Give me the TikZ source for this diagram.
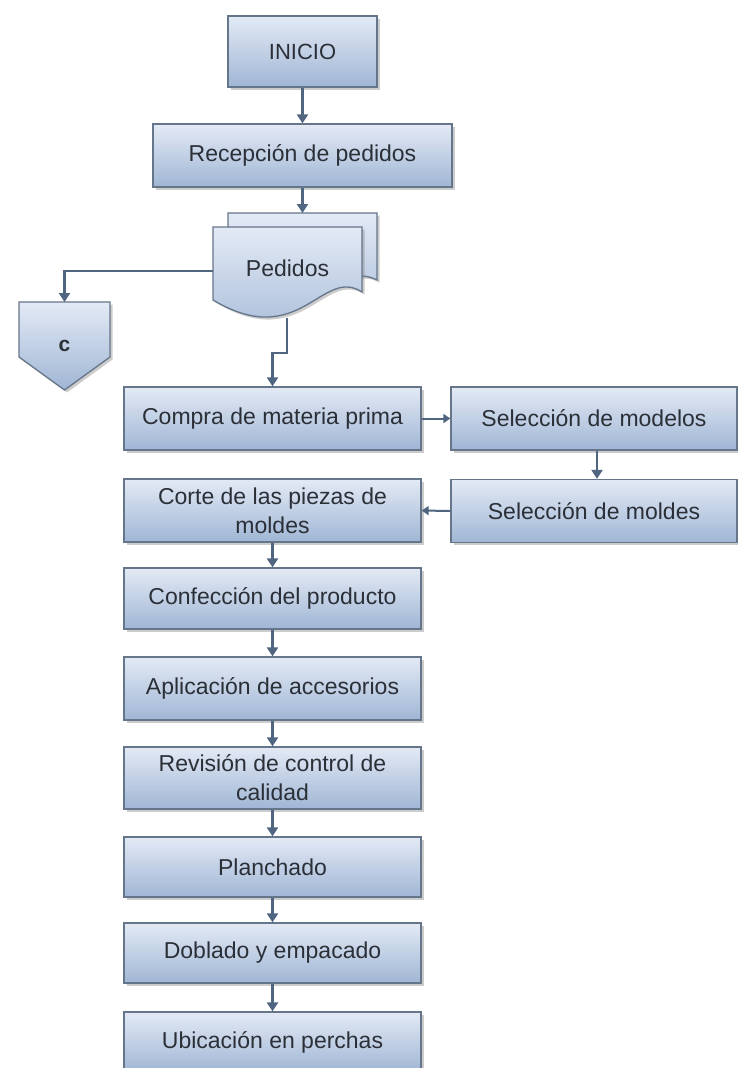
\documentclass[tikz,border=0pt]{standalone}
\usepackage{fontspec}
\setmainfont{Liberation Sans}
\usetikzlibrary{arrows.meta,shadows}
\definecolor{topc}{HTML}{E3EAF5}
\definecolor{botc}{HTML}{A0B6D5}
\definecolor{edgec}{HTML}{65758A}
\definecolor{arrc}{HTML}{4F6580}
\definecolor{txtc}{HTML}{2B2F37}
\begin{document}
\begin{tikzpicture}[x=1pt,y=-1pt,
  shapefill/.style={draw=edgec, line width=1.3pt, top color=topc, bottom color=botc,
    drop shadow={opacity=0.4, shadow xshift=2.5pt, shadow yshift=-2.5pt}},
  box/.style={shapefill, inner sep=0pt, align=center, text=txtc,
    font=\fontsize{23}{29}\selectfont},
  wide/.style={box, minimum width=297pt, minimum height=63pt},
  rbox/.style={box, minimum width=286pt, minimum height=63pt},
  lbl/.style={inner sep=0pt, text=txtc, font=\fontsize{23}{29}\selectfont},
  flow/.style={draw=arrc, line width=2.6pt, -{Triangle[length=9pt,width=11pt]}},
  hflow/.style={draw=arrc, line width=2pt, -{Triangle[length=7pt,width=9pt]}},
]
\useasboundingbox (0,0) rectangle (738,1068);

% top part
\node[box, minimum width=149pt, minimum height=71pt, font=\fontsize{22}{26}\selectfont] (inicio) at (302.5,51.5) {INICIO};
\node[box, minimum width=299pt, minimum height=63pt] (recep) at (302.5,155.5) {Recepción de pedidos};

% Pedidos (multi-document)
\path[shapefill] (228,213) -- (377,213) -- (377,280)
   .. controls (335,258) and (300,338) .. (228,292) -- cycle;
\path[shapefill] (213,227) -- (362,227) -- (362,292)
   .. controls (322,266) and (300,352) .. (213,300) -- cycle;
\node[lbl] (ped) at (287.5,268) {Pedidos};
\coordinate (pedT) at (302.5,213);
\coordinate (pedL) at (213,271);
\coordinate (pedB) at (287,318);

% off-page connector c
\path[shapefill] (19,302) -- (110,302) -- (110,357) -- (64.5,390) -- (19,357) -- cycle;
\node[inner sep=0pt, text=txtc, font=\bfseries\fontsize{21}{24}\selectfont] (cc) at (64.5,346) {c};
\coordinate (ctop) at (64.5,302);

% main column
\node[wide] (compra) at (272.5,418.5) {Compra de materia prima};
\node[wide] (corte) at (272.5,510.5) {Corte de las piezas de\\moldes};
\node[wide, minimum height=61pt] (confec) at (272.5,598.5) {Confección del producto};
\node[wide] (aplic) at (272.5,688.5) {Aplicación de accesorios};
\node[wide, minimum height=62pt] (revis) at (272.5,778) {Revisión de control de\\calidad};
\node[wide, minimum height=60pt] (planch) at (272.5,867) {Planchado};
\node[wide, minimum height=60pt] (doblado) at (272.5,953) {Doblado y empacado};
\node[wide, minimum height=60pt] (ubic) at (272.5,1042) {Ubicación en perchas};

% right column
\node[rbox] (modelos) at (594,418.5) {Selección de modelos};
\node[rbox] (moldes) at (594,511) {Selección de moldes};

% connectors
\draw[flow] (inicio) -- (recep);
\draw[flow] (recep.south -| pedT) -- (pedT);
\draw[flow] (pedL) -| (ctop);
\draw[flow] (pedB) -- (287,353) -| (compra.north);
\draw[hflow] (compra.east) -- (modelos.west);
\draw[flow] (modelos.south -| 597,0) -- (moldes.north -| 597,0);
\draw[hflow] (moldes.west) -- (corte.east);
\draw[flow] (corte) -- (confec);
\draw[flow] (confec) -- (aplic);
\draw[flow] (aplic) -- (revis);
\draw[flow] (revis) -- (planch);
\draw[flow] (planch) -- (doblado);
\draw[flow] (doblado) -- (ubic);
\end{tikzpicture}
\end{document}
